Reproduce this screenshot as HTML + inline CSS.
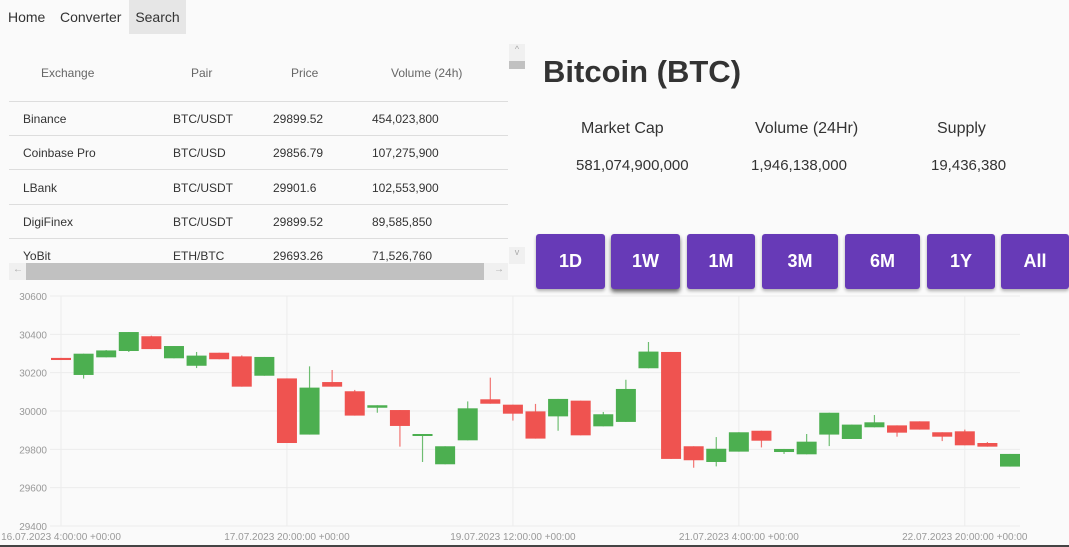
<!DOCTYPE html>
<html><head><meta charset="utf-8"><style>
body{margin:0;width:1069px;height:547px;background:#fafafa;font-family:"Liberation Sans",sans-serif;color:#333;position:relative;overflow:hidden}
.a{position:absolute;white-space:nowrap}
.nav{font-size:14px;top:9px;color:#333}
.th{font-size:12px;color:#666;top:66px}
.td{font-size:12px;color:#333}
.sep{position:absolute;left:9px;width:499px;height:1px;background:#ddd}
.btn{position:absolute;top:234px;height:55px;background:#673ab7;color:#fff;font-weight:bold;font-size:18px;display:flex;align-items:center;justify-content:center;border-radius:3px;box-shadow:0 2px 3px rgba(0,0,0,.3)}
.lbl{font-size:16px;top:120px;color:#333}
.val{font-size:15px;top:157px;color:#333}
</style></head><body>
<div class="a" style="left:0;top:0;width:200px;height:34px"></div>
<div class="a nav" style="left:8px">Home</div>
<div class="a nav" style="left:60px">Converter</div>
<div class="a" style="left:129px;top:0;width:57px;height:34px;background:#e6e6e6;font-size:14px;line-height:34px;text-align:center">Search</div>

<div>
<div class="a th" style="left:41px">Exchange</div>
<div class="a th" style="left:191px">Pair</div>
<div class="a th" style="left:291px">Price</div>
<div class="a th" style="left:391px">Volume (24h)</div>
<div class="sep" style="top:101px"></div><div class="sep" style="top:135px"></div><div class="sep" style="top:169px"></div><div class="sep" style="top:204px"></div><div class="sep" style="top:238px"></div>
<div class="a td" style="left:23px;top:112px">Binance</div><div class="a td" style="left:173px;top:112px">BTC/USDT</div><div class="a td" style="left:273px;top:112px">29899.52</div><div class="a td" style="left:372px;top:112px">454,023,800</div>
<div class="a td" style="left:23px;top:146px">Coinbase Pro</div><div class="a td" style="left:173px;top:146px">BTC/USD</div><div class="a td" style="left:273px;top:146px">29856.79</div><div class="a td" style="left:372px;top:146px">107,275,900</div>
<div class="a td" style="left:23px;top:181px">LBank</div><div class="a td" style="left:173px;top:181px">BTC/USDT</div><div class="a td" style="left:273px;top:181px">29901.6</div><div class="a td" style="left:372px;top:181px">102,553,900</div>
<div class="a td" style="left:23px;top:215px">DigiFinex</div><div class="a td" style="left:173px;top:215px">BTC/USDT</div><div class="a td" style="left:273px;top:215px">29899.52</div><div class="a td" style="left:372px;top:215px">89,585,850</div>
<div class="a td" style="left:23px;top:249px">YoBit</div><div class="a td" style="left:173px;top:249px">ETH/BTC</div><div class="a td" style="left:273px;top:249px">29693.26</div><div class="a td" style="left:372px;top:249px">71,526,760</div>
</div>
<div class="a" style="left:9px;top:263px;width:499px;height:17px;background:#f0f0f0"><div style="position:absolute;left:17px;top:0;width:458px;height:17px;background:#c1c1c1"></div><span style="position:absolute;left:4px;top:1px;font-size:10px;color:#aaa">←</span><span style="position:absolute;right:4px;top:1px;font-size:10px;color:#aaa">→</span></div>
<div class="a" style="left:509px;top:44px;width:16px;height:219px">
<div style="position:absolute;top:0;width:16px;height:17px;background:#f0f0f0;font-size:9px;color:#aaa;text-align:center">^</div>
<div style="position:absolute;top:17px;width:16px;height:8px;background:#c1c1c1"></div>
<div style="position:absolute;top:203px;width:16px;height:17px;background:#f0f0f0;font-size:9px;color:#aaa;text-align:center">v</div></div>

<div class="a" style="left:543px;top:54px;font-size:31px;font-weight:bold;color:#333">Bitcoin (BTC)</div>
<div class="a lbl" style="left:581px">Market Cap</div>
<div class="a lbl" style="left:755px">Volume (24Hr)</div>
<div class="a lbl" style="left:937px">Supply</div>
<div class="a val" style="left:576px">581,074,900,000</div>
<div class="a val" style="left:751px">1,946,138,000</div>
<div class="a val" style="left:931px">19,436,380</div>

<div class="btn" style="left:536px;width:69px">1D</div>
<div class="btn" style="left:611px;width:69px;box-shadow:0 3px 4px rgba(0,0,0,.6)">1W</div>
<div class="btn" style="left:687px;width:68px">1M</div>
<div class="btn" style="left:762px;width:76px">3M</div>
<div class="btn" style="left:845px;width:75px">6M</div>
<div class="btn" style="left:927px;width:68px">1Y</div>
<div class="btn" style="left:1001px;width:68px">All</div>

<svg class="a" style="left:0;top:0" width="1069" height="547" id="chart"></svg>
<div class="a" style="left:0;top:545px;width:1069px;height:2px;background:#444"></div>
<script>
const opens=[30277,30188,30280,30313,30390,30275,30236,30304,30285,30184,30170,29877,30151,30103,30017,30005,29877,29722,29847,30061,30033,29998,29972,30054,29920,29943,30223,30308,29816,29734,29788,29897,29786,29774,29877,29854,29915,29925,29946,29889,29894,29833,29710];
const closes=[30266,30299,30316,30412,30323,30339,30289,30270,30127,30282,29833,30122,30127,29976,30030,29922,29880,29816,30014,30038,29986,29856,30063,29873,29983,30115,30310,29750,29743,29803,29889,29845,29802,29840,29991,29929,29941,29887,29903,29866,29821,29814,29776];
const highs=[30277,30299,30318,30412,30393,30339,30308,30304,30290,30282,30170,30233,30214,30110,30030,30005,29880,29816,30050,30174,30033,30037,30063,30054,29995,30163,30360,30308,29816,29864,29889,29897,29802,29880,29991,29929,29979,29925,29946,29889,29903,29838,29776];
const lows=[30266,30169,30280,30308,30323,30275,30224,30270,30127,30184,29833,29877,30127,29976,29991,29814,29734,29722,29847,30038,29950,29856,29897,29873,29920,29943,30223,29750,29704,29711,29788,29810,29776,29774,29817,29854,29915,29866,29903,29843,29821,29814,29710];
const yTicks=[29400,29600,29800,30000,30200,30400,30600];
const xLabels=["16.07.2023 4:00:00 +00:00","17.07.2023 20:00:00 +00:00","19.07.2023 12:00:00 +00:00","21.07.2023 4:00:00 +00:00","22.07.2023 20:00:00 +00:00"];
const svg=document.getElementById('chart');const NS='http://www.w3.org/2000/svg';
const X0=61,DX=(1010-61)/42,Y0=296,Y1=526,VMAX=30600,VMIN=29400;
const x=i=>X0+i*DX;const y=v=>Y0+(VMAX-v)*(Y1-Y0)/(VMAX-VMIN);
function mk(t,a){const e=document.createElementNS(NS,t);for(const k in a)e.setAttribute(k,a[k]);svg.appendChild(e);return e;}
yTicks.forEach(v=>{const l=mk('line',{x1:50,x2:1020,y1:y(v),y2:y(v),stroke:'#ececec'});

const t=mk('text',{x:47,y:y(v)+4,'text-anchor':'end','font-size':'10','fill':'#999','font-family':'Liberation Sans'});t.textContent=v;
});
xLabels.forEach((s,k)=>{const xi=x(k*10);const l=mk('line',{x1:xi,x2:xi,y1:296,y2:526,stroke:'#ececec'});

const t=mk('text',{x:xi,y:540,'text-anchor':'middle','font-size':'10','fill':'#999','font-family':'Liberation Sans'});t.textContent=s;
});
opens.forEach((o,i)=>{const c=closes[i];const col=c>=o?'#4caf50':'#ef5350';const cx=x(i);
const w=mk('line',{x1:cx,x2:cx,y1:y(highs[i]),y2:y(lows[i]),stroke:col,'stroke-width':1.2,opacity:.8});

const top=y(Math.max(o,c)),h=Math.max(2,Math.abs(y(o)-y(c)));
const r=mk('rect',{x:cx-10,y:top,width:20,height:h,fill:col});
});
</script>
</body></html>
